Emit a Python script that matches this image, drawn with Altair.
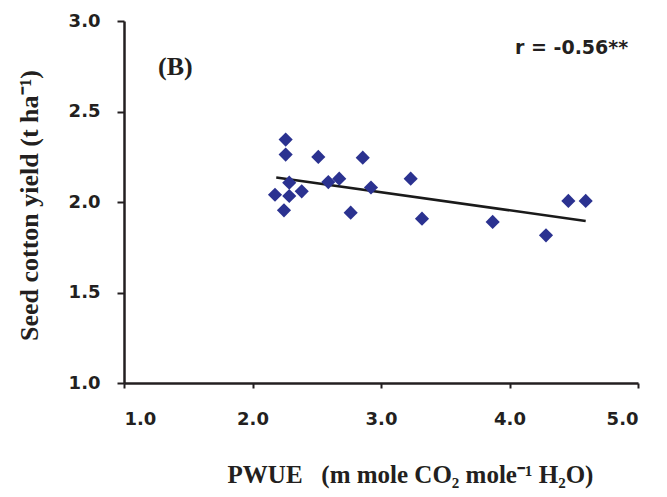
import altair as alt
import pandas as pd

# Scatter data
pwue = [2.258, 2.258, 2.512, 2.858, 2.286, 2.175, 2.286, 2.383, 2.245, 2.590,
        2.675, 2.922, 2.764, 3.231, 3.319, 3.869, 4.284, 4.458, 4.593]
yield_ = [2.345, 2.262, 2.249, 2.245, 2.107, 2.04, 2.033, 2.059, 1.954, 2.11,
          2.129, 2.08, 1.941, 2.129, 1.908, 1.89, 1.816, 2.006, 2.006]

# Fitted regression line end points
line_x = [2.185, 4.593]
line_y = [2.135, 1.895]

x_ticks = [1.0, 2.0, 3.0, 4.0, 5.0]
y_ticks = [1.0, 1.5, 2.0, 2.5, 3.0]

pts = pd.DataFrame({"x": pwue, "y": yield_})
ln = pd.DataFrame({"x": line_x, "y": line_y})
ann = pd.DataFrame({
    "x": [1.265, 4.043],
    "y": [2.744, 2.850],
    "t": ["(B)", "r = -0.56**"],
})

blue = "#2B3290"
ink = "#231F20"

xs = alt.Scale(domain=[1.0, 5.0], nice=False, zero=False)
ys = alt.Scale(domain=[1.0, 3.0], nice=False, zero=False)

xaxis = alt.Axis(
    values=x_ticks, format=".1f", grid=False,
    domainColor=ink, domainWidth=2.5, tickColor=ink, tickWidth=2, tickSize=5,
    labelFont="DejaVu Sans", labelFontWeight="bold", labelFontSize=18, labelColor=ink,
    labelPadding=22,
    title="PWUE\u00a0\u00a0\u00a0(m mole CO\u2082 mole\u207b\u00b9 H\u2082O)",
    titleFont="Liberation Serif", titleFontWeight="bold", titleFontSize=25, titleColor=ink,
    titleX=286, titleY=91, titleBaseline="middle", titleAlign="center",
)
yaxis = alt.Axis(
    values=y_ticks, format=".1f", grid=False,
    domainColor=ink, domainWidth=2.5, tickColor=ink, tickWidth=2, tickSize=7,
    labelFont="DejaVu Sans", labelFontWeight="bold", labelFontSize=18, labelColor=ink,
    labelPadding=17,
    title="Seed cotton yield (t ha\u207b\u00b9)",
    titleFont="Liberation Serif", titleFontWeight="bold", titleFontSize=26, titleColor=ink,
    titleX=-95, titleY=184, titleBaseline="middle", titleAlign="center", titleAngle=-90,
)

points = alt.Chart(pts).mark_point(
    shape="diamond", filled=True, size=200, color=blue, opacity=1
).encode(
    x=alt.X("x:Q", scale=xs, axis=xaxis),
    y=alt.Y("y:Q", scale=ys, axis=yaxis),
)

fit = alt.Chart(ln).mark_line(color="#1a1a1a", strokeWidth=2.5).encode(
    x=alt.X("x:Q", scale=xs),
    y=alt.Y("y:Q", scale=ys),
)

label_b = alt.Chart(ann.iloc[[0]]).mark_text(
    font="Liberation Serif", fontWeight="bold", fontSize=26, color=ink,
    align="left", baseline="middle",
).encode(x=alt.X("x:Q", scale=xs), y=alt.Y("y:Q", scale=ys), text="t:N")

label_r = alt.Chart(ann.iloc[[1]]).mark_text(
    font="DejaVu Sans", fontWeight="bold", fontSize=19, color=ink,
    align="left", baseline="middle",
).encode(x=alt.X("x:Q", scale=xs), y=alt.Y("y:Q", scale=ys), text="t:N")

chart = alt.layer(fit, points, label_b, label_r).properties(
    width=514, height=362,
    padding={"left": 116, "top": 13, "right": 21, "bottom": 106},
    autosize=alt.AutoSizeParams(type="none"),
    background="white",
).configure_view(stroke=None)

chart.save("out.html", embed_options={"renderer": "svg", "actions": False})
